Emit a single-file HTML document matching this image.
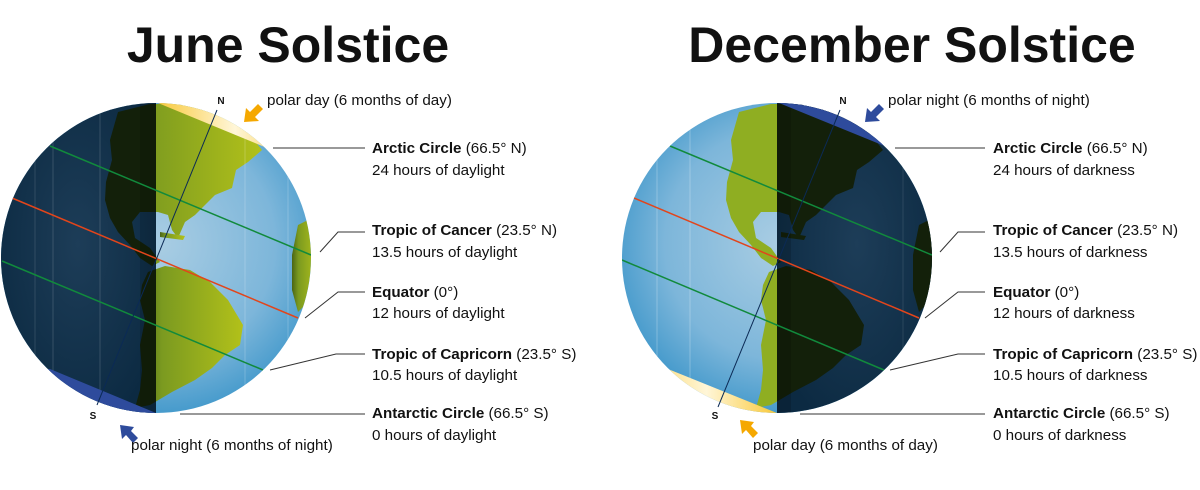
<!DOCTYPE html>
<html><head><meta charset="utf-8"><style>
html,body{margin:0;padding:0;background:#fff;}
svg{display:block;font-family:"Liberation Sans",sans-serif;}
.t{font-size:15.2px;fill:#111;}
.b{font-weight:bold;}
.ttl{font-size:50px;font-weight:bold;fill:#111;}
</style></head><body>
<svg width="1200" height="490" viewBox="0 0 1200 490" xmlns="http://www.w3.org/2000/svg">
<defs>
<radialGradient id="oceanDay" cx="0.5" cy="0.45" r="0.6">
<stop offset="0" stop-color="#a9cde3"/><stop offset="0.6" stop-color="#7db6da"/><stop offset="1" stop-color="#2f8fc6"/>
</radialGradient>
<radialGradient id="oceanNight" cx="0.5" cy="0.45" r="0.6">
<stop offset="0" stop-color="#1d3d58"/><stop offset="1" stop-color="#0c2a42"/>
</radialGradient>
<linearGradient id="landDay" x1="0" y1="0" x2="1" y2="0">
<stop offset="0" stop-color="#4a6516"/><stop offset="0.25" stop-color="#7b9a20"/><stop offset="1" stop-color="#b2c11a"/>
</linearGradient>
<linearGradient id="capDay" x1="0" y1="0" x2="1" y2="0">
<stop offset="0" stop-color="#f9c93a"/><stop offset="0.55" stop-color="#fff6d8"/><stop offset="1" stop-color="#f9c93a"/>
</linearGradient>
<clipPath id="gL"><circle cx="156" cy="258" r="155"/></clipPath>
<clipPath id="gR"><circle cx="777" cy="258" r="155"/></clipPath>
<g id="land">
<path d="M118,112 L150,104 L200,104 L232,112 L240,125 L250,135 L262,150 L248,162 L236,170 L232,188 L215,195 L205,205 L195,215 L185,222 L178,238 L172,230 L168,215 L158,212 L140,212 L132,222 L135,238 L150,248 L160,262 L152,266 L140,258 L130,245 L118,232 L110,218 L105,200 L106,182 L112,160 L110,140 Z"/>
<path d="M148,272 L165,266 L190,270 L210,282 L228,300 L243,325 L240,345 L225,355 L212,368 L195,380 L172,392 L150,405 L135,408 L140,390 L142,370 L140,345 L145,320 L140,300 L142,285 Z"/>
<path d="M298,225 L312,218 L318,250 L310,300 L298,312 L292,290 L292,255 Z"/>
<path d="M160,232 L185,236 L183,240 L160,237 Z"/>
</g>
</defs>

<text class="ttl" x="288" y="62" text-anchor="middle">June Solstice</text>
<text class="ttl" x="912" y="62" text-anchor="middle">December Solstice</text>

<g clip-path="url(#gL)">
<rect x="0" y="100" width="320" height="320" fill="url(#oceanDay)"/>
<rect x="0" y="100" width="156" height="320" fill="url(#oceanNight)"/>
<g clip-path="url(#gL)">
<svg x="156" y="0" width="200" height="490" viewBox="156 0 200 490" overflow="hidden"><use href="#land" fill="url(#landDay)"/></svg>
<svg x="0" y="0" width="156" height="490" viewBox="0 0 156 490" overflow="hidden"><use href="#land" fill="#13200a"/></svg>
</g>
<rect x="140" y="100" width="16" height="320" fill="#000" opacity="0.12"/>
<line x1="100" y1="100" x2="100" y2="420" stroke="#fff" stroke-opacity="0.15"/>
<line x1="53" y1="100" x2="53" y2="420" stroke="#fff" stroke-opacity="0.15"/>
<line x1="35" y1="100" x2="35" y2="420" stroke="#fff" stroke-opacity="0.12"/>
<line x1="245" y1="100" x2="245" y2="420" stroke="#fff" stroke-opacity="0.2"/>
<line x1="288" y1="100" x2="288" y2="420" stroke="#fff" stroke-opacity="0.2"/>
<polygon points="156,100 300,100 300,160 267,148 158,103" fill="url(#capDay)"/>
<polygon points="156,420 156,413 50,369 0,369 0,420" fill="#2e4b9c"/>
<line x1="50" y1="146" x2="311" y2="255" stroke="#118a3c" stroke-width="1.5"/>
<line x1="12" y1="198" x2="298" y2="318" stroke="#e2451b" stroke-width="1.5"/>
<line x1="2" y1="261" x2="263" y2="370" stroke="#118a3c" stroke-width="1.5"/>
</g>
<line x1="217" y1="110" x2="97" y2="405" stroke="#0b2a55" stroke-width="1"/>
<text x="221" y="104" font-size="10" font-weight="bold" text-anchor="middle" fill="#111">N</text>
<text x="93" y="419" font-size="10" font-weight="bold" text-anchor="middle" fill="#111">S</text>
<polygon points="244,122 246,108 250,112 258,104 263,109 255,117 259,121" fill="#f5a800"/>
<polygon points="120,425 122,439 126,435 133,443 138,438 131,431 134,427" fill="#2e4b9c"/>
<text class="t" x="267" y="105">polar day (6 months of day)</text>
<text class="t" x="131" y="450">polar night (6 months of night)</text>

<g stroke="#333" stroke-width="1" fill="none">
<polyline points="273,148 365,148"/>
<polyline points="320,252 338,232 365,232"/>
<polyline points="305,318 338,292 365,292"/>
<polyline points="270,370 336,354 365,354"/>
<polyline points="180,414 365,414"/>
<polyline points="895,148 985,148"/>
<polyline points="940,252 958,232 985,232"/>
<polyline points="925,318 958,292 985,292"/>
<polyline points="890,370 958,354 985,354"/>
<polyline points="800,414 985,414"/>
</g>

<text class="t" x="372" y="153"><tspan class="b">Arctic Circle</tspan> (66.5° N)</text>
<text class="t" x="372" y="175">24 hours of daylight</text>
<text class="t" x="372" y="235"><tspan class="b">Tropic of Cancer</tspan> (23.5° N)</text>
<text class="t" x="372" y="257">13.5 hours of daylight</text>
<text class="t" x="372" y="297"><tspan class="b">Equator</tspan> (0°)</text>
<text class="t" x="372" y="318">12 hours of daylight</text>
<text class="t" x="372" y="359"><tspan class="b">Tropic of Capricorn</tspan> (23.5° S)</text>
<text class="t" x="372" y="380">10.5 hours of daylight</text>
<text class="t" x="372" y="418"><tspan class="b">Antarctic Circle</tspan> (66.5° S)</text>
<text class="t" x="372" y="440">0 hours of daylight</text>

<text class="t" x="993" y="153"><tspan class="b">Arctic Circle</tspan> (66.5° N)</text>
<text class="t" x="993" y="175">24 hours of darkness</text>
<text class="t" x="993" y="235"><tspan class="b">Tropic of Cancer</tspan> (23.5° N)</text>
<text class="t" x="993" y="257">13.5 hours of darkness</text>
<text class="t" x="993" y="297"><tspan class="b">Equator</tspan> (0°)</text>
<text class="t" x="993" y="318">12 hours of darkness</text>
<text class="t" x="993" y="359"><tspan class="b">Tropic of Capricorn</tspan> (23.5° S)</text>
<text class="t" x="993" y="380">10.5 hours of darkness</text>
<text class="t" x="993" y="418"><tspan class="b">Antarctic Circle</tspan> (66.5° S)</text>
<text class="t" x="993" y="440">0 hours of darkness</text>

<g clip-path="url(#gR)">
<rect x="620" y="100" width="320" height="320" fill="url(#oceanDay)"/>
<rect x="777" y="100" width="160" height="320" fill="url(#oceanNight)"/>
<g transform="translate(621,0)">
<svg x="0" y="0" width="156" height="490" viewBox="0 0 156 490" overflow="hidden"><use href="#land" fill="#8fae22"/></svg>
<svg x="156" y="0" width="200" height="490" viewBox="156 0 200 490" overflow="hidden"><use href="#land" fill="#13200a"/></svg>
</g>
<rect x="777" y="100" width="14" height="320" fill="#000" opacity="0.15"/>
<line x1="657" y1="100" x2="657" y2="420" stroke="#fff" stroke-opacity="0.25"/>
<line x1="690" y1="100" x2="690" y2="420" stroke="#fff" stroke-opacity="0.25"/>
<line x1="903" y1="100" x2="903" y2="420" stroke="#fff" stroke-opacity="0.1"/>
<polygon points="777,100 940,100 940,160 887,147 779,103" fill="#2e4b9c"/>
<polygon points="777,420 777,413 668,369 620,369 620,420" fill="url(#capDay)"/>
<line x1="670" y1="146" x2="932" y2="255" stroke="#118a3c" stroke-width="1.5"/>
<line x1="634" y1="198" x2="919" y2="318" stroke="#e2451b" stroke-width="1.5"/>
<line x1="622" y1="260" x2="884" y2="370" stroke="#118a3c" stroke-width="1.5"/>
</g>
<line x1="840" y1="110" x2="718" y2="407" stroke="#0b2a55" stroke-width="1"/>
<text x="843" y="104" font-size="10" font-weight="bold" text-anchor="middle" fill="#111">N</text>
<text x="715" y="419" font-size="10" font-weight="bold" text-anchor="middle" fill="#111">S</text>
<polygon points="865,122 867,108 871,112 879,104 884,109 876,117 880,121" fill="#2e4b9c"/>
<polygon points="740,420 742,434 746,430 753,438 758,433 751,426 754,422" fill="#f5a800"/>
<text class="t" x="888" y="105">polar night (6 months of night)</text>
<text class="t" x="753" y="450">polar day (6 months of day)</text>
</svg>
</body></html>
